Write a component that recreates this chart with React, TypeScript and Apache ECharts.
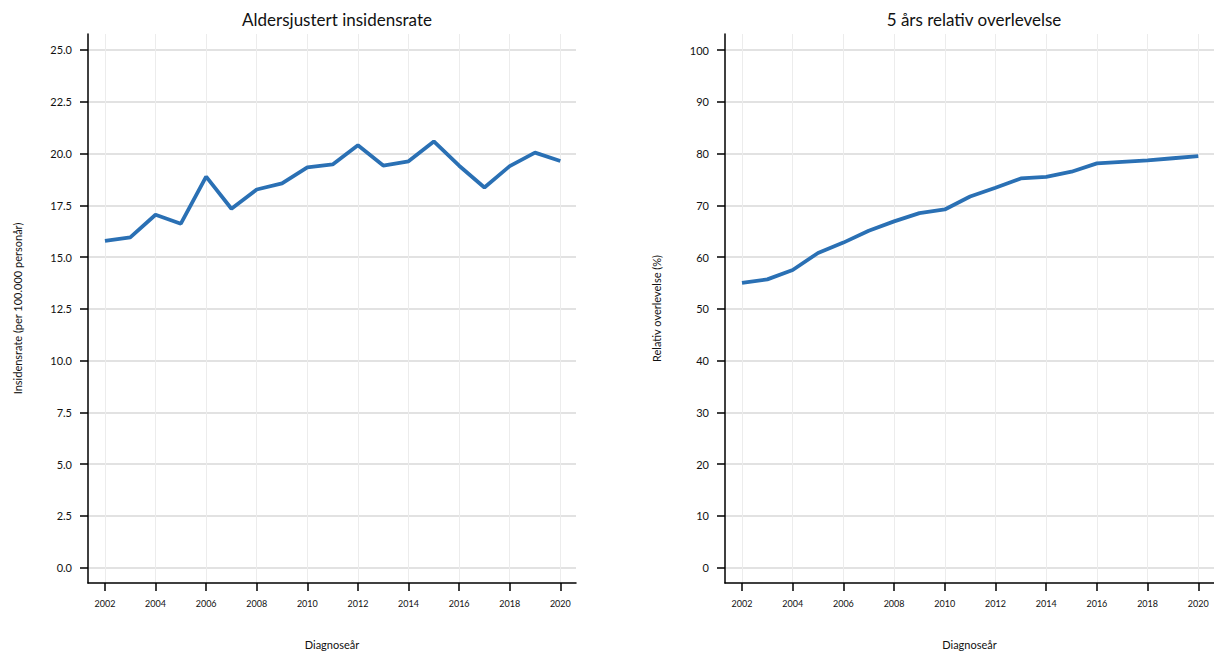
import React, { useEffect, useRef } from "react";
import * as echarts from "echarts";

const years = [2002, 2003, 2004, 2005, 2006, 2007, 2008, 2009, 2010, 2011, 2012, 2013, 2014, 2015, 2016, 2017, 2018, 2019, 2020];
const incidence = [15.78, 15.95, 17.04, 16.61, 18.88, 17.33, 18.26, 18.56, 19.33, 19.47, 20.4, 19.42, 19.62, 20.58, 19.41, 18.36, 19.39, 20.04, 19.64];
const survival = [55.0, 55.7, 57.5, 60.8, 62.8, 65.1, 66.9, 68.5, 69.2, 71.7, 73.4, 75.2, 75.5, 76.5, 78.1, 78.4, 78.7, 79.1, 79.5];
const xTicks = [2002, 2004, 2006, 2008, 2010, 2012, 2014, 2016, 2018, 2020];
const yTicksLeft = [0, 2.5, 5, 7.5, 10, 12.5, 15, 17.5, 20, 22.5, 25];
const yTicksRight = [0, 10, 20, 30, 40, 50, 60, 70, 80, 90, 100];

const FONT = "Lato";
const TXT = "#111111";

function xAxisCfg(gridIndex: number) {
  return {
    type: "value",
    gridIndex,
    min: 2001.33,
    max: 2020.62,
    name: "Diagnoseår",
    nameLocation: "middle",
    nameGap: 56,
    nameTextStyle: { fontFamily: FONT, fontSize: 11, color: TXT },
    axisLine: { show: true, onZero: false, lineStyle: { color: "#000", width: 1.5 } },
    axisTick: { show: true, length: 8, customValues: xTicks, lineStyle: { color: "#000", width: 1.5 } },
    axisLabel: { customValues: xTicks, fontFamily: FONT, fontSize: 9, color: TXT, margin: 16, formatter: (v: number) => String(v) },
    splitLine: { show: true, lineStyle: { color: "#ececec", width: 1 } },
  };
}

function yAxisCfg(gridIndex: number, min: number, max: number, ticks: number[], name: string, gap: number, dec: number) {
  return {
    type: "value",
    gridIndex,
    min,
    max,
    name,
    nameLocation: "middle",
    nameGap: gap,
    nameTextStyle: { fontFamily: FONT, fontSize: 11, color: TXT },
    axisLine: { show: true, onZero: false, lineStyle: { color: "#000", width: 1.5 } },
    axisTick: { show: true, length: 8, customValues: ticks, lineStyle: { color: "#000", width: 1.5 } },
    axisLabel: { customValues: ticks, fontFamily: FONT, fontSize: 11, color: TXT, margin: 16, formatter: (v: number) => v.toFixed(dec) },
    splitLine: { show: true, lineStyle: { color: "#e2e2e2", width: 2 } },
  };
}

export default function App() {
  const ref = useRef<HTMLDivElement>(null);
  useEffect(() => {
    if (!ref.current) return;
    const chart = echarts.init(ref.current, null, { renderer: "svg" });
    chart.setOption({
      animation: false,
      backgroundColor: "#ffffff",
      title: [
        { text: "Aldersjustert insidensrate", left: 332, top: 6, textAlign: "center", textStyle: { fontFamily: FONT, fontSize: 17, fontWeight: "normal", color: TXT } },
        { text: "5 års relativ overlevelse", left: 969, top: 6, textAlign: "center", textStyle: { fontFamily: FONT, fontSize: 17, fontWeight: "normal", color: TXT } },
      ],
      grid: [
        { left: 88, top: 34, width: 488, height: 549 },
        { left: 725, top: 34, width: 489, height: 549 },
      ],
      xAxis: [xAxisCfg(0), xAxisCfg(1)],
      yAxis: [
        yAxisCfg(0, -0.74, 25.77, yTicksLeft, "Insidensrate (per 100.000 personår)", 65, 1),
        yAxisCfg(1, -2.96, 103.1, yTicksRight, "Relativ overlevelse (%)", 63, 0),
      ],
      series: [
        {
          type: "line",
          xAxisIndex: 0,
          yAxisIndex: 0,
          data: years.map((y, i) => [y, incidence[i]]),
          showSymbol: false,
          lineStyle: { color: "#2a70b4", width: 3.8 },
        },
        {
          type: "line",
          xAxisIndex: 1,
          yAxisIndex: 1,
          data: years.map((y, i) => [y, survival[i]]),
          showSymbol: false,
          lineStyle: { color: "#2a70b4", width: 3.8 },
        },
      ],
    });
    return () => chart.dispose();
  }, []);
  return <div ref={ref} style={{ position: "fixed", left: 0, top: 0, width: 1214, height: 657 }} />;
}
